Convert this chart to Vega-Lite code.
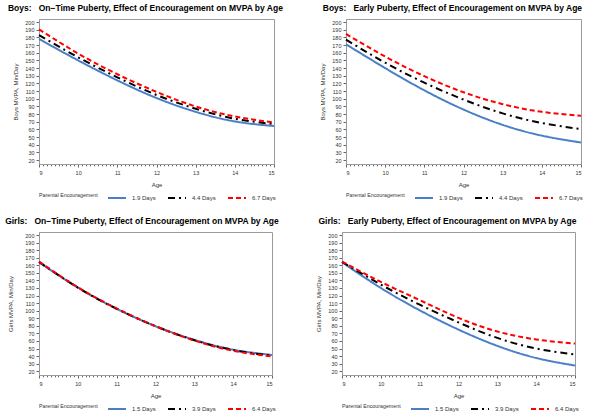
{
  "$schema": "https://vega.github.io/schema/vega-lite/v6.json",
  "padding": {"left": 4, "top": 3, "right": 2, "bottom": 2},
  "config": {
    "font": "Liberation Sans",
    "view": {"stroke": "#9a9a9a", "strokeWidth": 1},
    "axis": {"labelFontSize": 5.5, "titleFontSize": 6, "labelColor": "#333333", "titleColor": "#333333", "titleFontWeight": "normal", "grid": false, "tickSize": 3, "domainColor": "#9a9a9a", "tickColor": "#666666", "labelPadding": 2, "titlePadding": 6},
    "axisX": {"labelOverlap": false, "labelPadding": 3, "labelExpr": "abs(datum.value - round(datum.value)) < 0.01 ? format(datum.value, 'd') : ''", "tickSize": {"condition": {"test": "abs(datum.value - round(datum.value)) < 0.01", "value": 3}, "value": 1.8}},
    "legend": {"orient": "bottom", "direction": "horizontal", "titleOrient": "left", "titleFontSize": 5.3, "titleFontWeight": "normal", "titleColor": "#333333", "labelFontSize": 6, "labelColor": "#333333", "symbolType": "stroke", "symbolSize": 324, "symbolStrokeWidth": 2, "columnPadding": 8, "titlePadding": 9, "labelOffset": 5, "offset": 0},
    "title": {"fontSize": 8.5, "fontWeight": "bold", "anchor": "middle", "frame": "bounds", "offset": 7, "color": "#000000"}
  },
  "data": {"values": [
    {"panel": "BO", "enc": "1.9 Days", "age": 9, "mvpa": 178},
    {"panel": "BO", "enc": "1.9 Days", "age": 10, "mvpa": 150},
    {"panel": "BO", "enc": "1.9 Days", "age": 11, "mvpa": 124},
    {"panel": "BO", "enc": "1.9 Days", "age": 12, "mvpa": 101},
    {"panel": "BO", "enc": "1.9 Days", "age": 13, "mvpa": 83},
    {"panel": "BO", "enc": "1.9 Days", "age": 14, "mvpa": 70.5},
    {"panel": "BO", "enc": "1.9 Days", "age": 15, "mvpa": 64.5},
    {"panel": "BO", "enc": "4.4 Days", "age": 9, "mvpa": 183},
    {"panel": "BO", "enc": "4.4 Days", "age": 10, "mvpa": 154},
    {"panel": "BO", "enc": "4.4 Days", "age": 11, "mvpa": 128},
    {"panel": "BO", "enc": "4.4 Days", "age": 12, "mvpa": 105},
    {"panel": "BO", "enc": "4.4 Days", "age": 13, "mvpa": 87},
    {"panel": "BO", "enc": "4.4 Days", "age": 14, "mvpa": 74},
    {"panel": "BO", "enc": "4.4 Days", "age": 15, "mvpa": 67},
    {"panel": "BO", "enc": "6.7 Days", "age": 9, "mvpa": 190.5},
    {"panel": "BO", "enc": "6.7 Days", "age": 10, "mvpa": 159},
    {"panel": "BO", "enc": "6.7 Days", "age": 11, "mvpa": 132},
    {"panel": "BO", "enc": "6.7 Days", "age": 12, "mvpa": 109},
    {"panel": "BO", "enc": "6.7 Days", "age": 13, "mvpa": 90},
    {"panel": "BO", "enc": "6.7 Days", "age": 14, "mvpa": 77},
    {"panel": "BO", "enc": "6.7 Days", "age": 15, "mvpa": 69},
    {"panel": "BE", "enc": "1.9 Days", "age": 9, "mvpa": 171},
    {"panel": "BE", "enc": "1.9 Days", "age": 10, "mvpa": 140},
    {"panel": "BE", "enc": "1.9 Days", "age": 11, "mvpa": 111},
    {"panel": "BE", "enc": "1.9 Days", "age": 12, "mvpa": 86},
    {"panel": "BE", "enc": "1.9 Days", "age": 13, "mvpa": 66},
    {"panel": "BE", "enc": "1.9 Days", "age": 14, "mvpa": 52},
    {"panel": "BE", "enc": "1.9 Days", "age": 15, "mvpa": 43},
    {"panel": "BE", "enc": "4.4 Days", "age": 9, "mvpa": 177},
    {"panel": "BE", "enc": "4.4 Days", "age": 10, "mvpa": 147},
    {"panel": "BE", "enc": "4.4 Days", "age": 11, "mvpa": 121},
    {"panel": "BE", "enc": "4.4 Days", "age": 12, "mvpa": 99},
    {"panel": "BE", "enc": "4.4 Days", "age": 13, "mvpa": 81},
    {"panel": "BE", "enc": "4.4 Days", "age": 14, "mvpa": 68.5},
    {"panel": "BE", "enc": "4.4 Days", "age": 15, "mvpa": 60.5},
    {"panel": "BE", "enc": "6.7 Days", "age": 9, "mvpa": 184.5},
    {"panel": "BE", "enc": "6.7 Days", "age": 10, "mvpa": 155},
    {"panel": "BE", "enc": "6.7 Days", "age": 11, "mvpa": 129.5},
    {"panel": "BE", "enc": "6.7 Days", "age": 12, "mvpa": 108.5},
    {"panel": "BE", "enc": "6.7 Days", "age": 13, "mvpa": 93},
    {"panel": "BE", "enc": "6.7 Days", "age": 14, "mvpa": 83},
    {"panel": "BE", "enc": "6.7 Days", "age": 15, "mvpa": 78},
    {"panel": "GO", "enc": "1.5 Days", "age": 9, "mvpa": 164},
    {"panel": "GO", "enc": "1.5 Days", "age": 10, "mvpa": 130.5},
    {"panel": "GO", "enc": "1.5 Days", "age": 11, "mvpa": 102.5},
    {"panel": "GO", "enc": "1.5 Days", "age": 12, "mvpa": 79.5},
    {"panel": "GO", "enc": "1.5 Days", "age": 13, "mvpa": 61.5},
    {"panel": "GO", "enc": "1.5 Days", "age": 14, "mvpa": 48.5},
    {"panel": "GO", "enc": "1.5 Days", "age": 15, "mvpa": 41.5},
    {"panel": "GO", "enc": "3.9 Days", "age": 9, "mvpa": 164.5},
    {"panel": "GO", "enc": "3.9 Days", "age": 10, "mvpa": 130.5},
    {"panel": "GO", "enc": "3.9 Days", "age": 11, "mvpa": 102.5},
    {"panel": "GO", "enc": "3.9 Days", "age": 12, "mvpa": 79.5},
    {"panel": "GO", "enc": "3.9 Days", "age": 13, "mvpa": 61},
    {"panel": "GO", "enc": "3.9 Days", "age": 14, "mvpa": 48},
    {"panel": "GO", "enc": "3.9 Days", "age": 15, "mvpa": 40.5},
    {"panel": "GO", "enc": "6.4 Days", "age": 9, "mvpa": 165},
    {"panel": "GO", "enc": "6.4 Days", "age": 10, "mvpa": 131},
    {"panel": "GO", "enc": "6.4 Days", "age": 11, "mvpa": 103},
    {"panel": "GO", "enc": "6.4 Days", "age": 12, "mvpa": 79.5},
    {"panel": "GO", "enc": "6.4 Days", "age": 13, "mvpa": 60.5},
    {"panel": "GO", "enc": "6.4 Days", "age": 14, "mvpa": 47},
    {"panel": "GO", "enc": "6.4 Days", "age": 15, "mvpa": 39.5},
    {"panel": "GE", "enc": "1.5 Days", "age": 9, "mvpa": 164},
    {"panel": "GE", "enc": "1.5 Days", "age": 10, "mvpa": 130},
    {"panel": "GE", "enc": "1.5 Days", "age": 11, "mvpa": 100.5},
    {"panel": "GE", "enc": "1.5 Days", "age": 12, "mvpa": 75},
    {"panel": "GE", "enc": "1.5 Days", "age": 13, "mvpa": 53.5},
    {"panel": "GE", "enc": "1.5 Days", "age": 14, "mvpa": 37.5},
    {"panel": "GE", "enc": "1.5 Days", "age": 15, "mvpa": 27.5},
    {"panel": "GE", "enc": "3.9 Days", "age": 9, "mvpa": 164.5},
    {"panel": "GE", "enc": "3.9 Days", "age": 10, "mvpa": 134.5},
    {"panel": "GE", "enc": "3.9 Days", "age": 11, "mvpa": 108},
    {"panel": "GE", "enc": "3.9 Days", "age": 12, "mvpa": 84.5},
    {"panel": "GE", "enc": "3.9 Days", "age": 13, "mvpa": 64},
    {"panel": "GE", "enc": "3.9 Days", "age": 14, "mvpa": 50},
    {"panel": "GE", "enc": "3.9 Days", "age": 15, "mvpa": 42},
    {"panel": "GE", "enc": "6.4 Days", "age": 9, "mvpa": 165},
    {"panel": "GE", "enc": "6.4 Days", "age": 10, "mvpa": 138},
    {"panel": "GE", "enc": "6.4 Days", "age": 11, "mvpa": 114},
    {"panel": "GE", "enc": "6.4 Days", "age": 12, "mvpa": 90.5},
    {"panel": "GE", "enc": "6.4 Days", "age": 13, "mvpa": 72.5},
    {"panel": "GE", "enc": "6.4 Days", "age": 14, "mvpa": 62},
    {"panel": "GE", "enc": "6.4 Days", "age": 15, "mvpa": 56.5}
  ]},
  "spacing": 13,
  "vconcat": [
    {
      "spacing": 35,
      "hconcat": [
        {
          "title": "Boys:\u00a0\u00a0\u00a0On\u2212Time Puberty, Effect of Encouragement on MVPA by Age",
          "width": 235, "height": 145,
          "transform": [{"filter": "datum.panel == 'BO'"}],
          "mark": {"type": "line", "interpolate": "natural", "strokeWidth": 2},
          "encoding": {
            "x": {"field": "age", "type": "quantitative", "scale": {"domain": [9, 15], "nice": false, "zero": false}, "axis": {"title": "Age", "values": [9, 9.1, 9.2, 9.3, 9.4, 9.5, 9.6, 9.7, 9.8, 9.9, 10, 10.1, 10.2, 10.3, 10.4, 10.5, 10.6, 10.7, 10.8, 10.9, 11, 11.1, 11.2, 11.3, 11.4, 11.5, 11.6, 11.7, 11.8, 11.9, 12, 12.1, 12.2, 12.3, 12.4, 12.5, 12.6, 12.7, 12.8, 12.9, 13, 13.1, 13.2, 13.3, 13.4, 13.5, 13.6, 13.7, 13.8, 13.9, 14, 14.1, 14.2, 14.3, 14.4, 14.5, 14.6, 14.7, 14.8, 14.9, 15]}},
            "y": {"field": "mvpa", "type": "quantitative", "scale": {"domain": [15, 204], "nice": false, "zero": false}, "axis": {"title": "Boys MVPA, Min/Day", "values": [20, 30, 40, 50, 60, 70, 80, 90, 100, 110, 120, 130, 140, 150, 160, 170, 180, 190, 200]}},
            "color": {"field": "enc", "type": "nominal", "scale": {"domain": ["1.9 Days", "4.4 Days", "6.7 Days"], "range": ["#4a7fc8", "#000000", "#ff0000"]}, "legend": {"title": "Parental Encouragement"}},
            "strokeDash": {"field": "enc", "type": "nominal", "scale": {"domain": ["1.9 Days", "4.4 Days", "6.7 Days"], "range": [[1, 0], [7, 4, 2, 4], [5, 3]]}, "legend": {"title": "Parental Encouragement"}}
          }
        },
        {
          "title": "Boys:\u00a0\u00a0\u00a0Early Puberty, Effect of Encouragement on MVPA by Age",
          "width": 235, "height": 145,
          "transform": [{"filter": "datum.panel == 'BE'"}],
          "mark": {"type": "line", "interpolate": "natural", "strokeWidth": 2},
          "encoding": {
            "x": {"field": "age", "type": "quantitative", "scale": {"domain": [9, 15], "nice": false, "zero": false}, "axis": {"title": "Age", "values": [9, 9.1, 9.2, 9.3, 9.4, 9.5, 9.6, 9.7, 9.8, 9.9, 10, 10.1, 10.2, 10.3, 10.4, 10.5, 10.6, 10.7, 10.8, 10.9, 11, 11.1, 11.2, 11.3, 11.4, 11.5, 11.6, 11.7, 11.8, 11.9, 12, 12.1, 12.2, 12.3, 12.4, 12.5, 12.6, 12.7, 12.8, 12.9, 13, 13.1, 13.2, 13.3, 13.4, 13.5, 13.6, 13.7, 13.8, 13.9, 14, 14.1, 14.2, 14.3, 14.4, 14.5, 14.6, 14.7, 14.8, 14.9, 15]}},
            "y": {"field": "mvpa", "type": "quantitative", "scale": {"domain": [15, 204], "nice": false, "zero": false}, "axis": {"title": "Boys MVPA, Min/Day", "values": [20, 30, 40, 50, 60, 70, 80, 90, 100, 110, 120, 130, 140, 150, 160, 170, 180, 190, 200]}},
            "color": {"field": "enc", "type": "nominal", "scale": {"domain": ["1.9 Days", "4.4 Days", "6.7 Days"], "range": ["#4a7fc8", "#000000", "#ff0000"]}, "legend": {"title": "Parental Encouragement"}},
            "strokeDash": {"field": "enc", "type": "nominal", "scale": {"domain": ["1.9 Days", "4.4 Days", "6.7 Days"], "range": [[1, 0], [7, 4, 2, 4], [5, 3]]}, "legend": {"title": "Parental Encouragement"}}
          }
        }
      ],
      "resolve": {"scale": {"color": "independent", "strokeDash": "independent"}, "legend": {"color": "independent", "strokeDash": "independent"}}
    },
    {
      "spacing": 35,
      "hconcat": [
        {
          "title": "Girls:\u00a0\u00a0\u00a0On\u2212Time Puberty, Effect of Encouragement on MVPA by Age",
          "width": 233, "height": 143,
          "transform": [{"filter": "datum.panel == 'GO'"}],
          "mark": {"type": "line", "interpolate": "natural", "strokeWidth": 2},
          "encoding": {
            "x": {"field": "age", "type": "quantitative", "scale": {"domain": [9, 15], "nice": false, "zero": false}, "axis": {"title": "Age", "values": [9, 9.1, 9.2, 9.3, 9.4, 9.5, 9.6, 9.7, 9.8, 9.9, 10, 10.1, 10.2, 10.3, 10.4, 10.5, 10.6, 10.7, 10.8, 10.9, 11, 11.1, 11.2, 11.3, 11.4, 11.5, 11.6, 11.7, 11.8, 11.9, 12, 12.1, 12.2, 12.3, 12.4, 12.5, 12.6, 12.7, 12.8, 12.9, 13, 13.1, 13.2, 13.3, 13.4, 13.5, 13.6, 13.7, 13.8, 13.9, 14, 14.1, 14.2, 14.3, 14.4, 14.5, 14.6, 14.7, 14.8, 14.9, 15]}},
            "y": {"field": "mvpa", "type": "quantitative", "scale": {"domain": [15, 204], "nice": false, "zero": false}, "axis": {"title": "Girls MVPA, Min/Day", "titlePadding": 11, "values": [20, 30, 40, 50, 60, 70, 80, 90, 100, 110, 120, 130, 140, 150, 160, 170, 180, 190, 200]}},
            "color": {"field": "enc", "type": "nominal", "scale": {"domain": ["1.5 Days", "3.9 Days", "6.4 Days"], "range": ["#4a7fc8", "#000000", "#ff0000"]}, "legend": {"title": "Parental Encouragement"}},
            "strokeDash": {"field": "enc", "type": "nominal", "scale": {"domain": ["1.5 Days", "3.9 Days", "6.4 Days"], "range": [[1, 0], [7, 4, 2, 4], [5, 3]]}, "legend": {"title": "Parental Encouragement"}}
          }
        },
        {
          "title": "Girls:\u00a0\u00a0\u00a0Early Puberty, Effect of Encouragement on MVPA by Age",
          "width": 233, "height": 143,
          "transform": [{"filter": "datum.panel == 'GE'"}],
          "mark": {"type": "line", "interpolate": "natural", "strokeWidth": 2},
          "encoding": {
            "x": {"field": "age", "type": "quantitative", "scale": {"domain": [9, 15], "nice": false, "zero": false}, "axis": {"title": "Age", "values": [9, 9.1, 9.2, 9.3, 9.4, 9.5, 9.6, 9.7, 9.8, 9.9, 10, 10.1, 10.2, 10.3, 10.4, 10.5, 10.6, 10.7, 10.8, 10.9, 11, 11.1, 11.2, 11.3, 11.4, 11.5, 11.6, 11.7, 11.8, 11.9, 12, 12.1, 12.2, 12.3, 12.4, 12.5, 12.6, 12.7, 12.8, 12.9, 13, 13.1, 13.2, 13.3, 13.4, 13.5, 13.6, 13.7, 13.8, 13.9, 14, 14.1, 14.2, 14.3, 14.4, 14.5, 14.6, 14.7, 14.8, 14.9, 15]}},
            "y": {"field": "mvpa", "type": "quantitative", "scale": {"domain": [15, 204], "nice": false, "zero": false}, "axis": {"title": "Girls MVPA, Min/Day", "values": [20, 30, 40, 50, 60, 70, 80, 90, 100, 110, 120, 130, 140, 150, 160, 170, 180, 190, 200]}},
            "color": {"field": "enc", "type": "nominal", "scale": {"domain": ["1.5 Days", "3.9 Days", "6.4 Days"], "range": ["#4a7fc8", "#000000", "#ff0000"]}, "legend": {"title": "Parental Encouragement"}},
            "strokeDash": {"field": "enc", "type": "nominal", "scale": {"domain": ["1.5 Days", "3.9 Days", "6.4 Days"], "range": [[1, 0], [7, 4, 2, 4], [5, 3]]}, "legend": {"title": "Parental Encouragement"}}
          }
        }
      ],
      "resolve": {"scale": {"color": "independent", "strokeDash": "independent"}, "legend": {"color": "independent", "strokeDash": "independent"}}
    }
  ],
  "resolve": {"scale": {"color": "independent", "strokeDash": "independent"}, "legend": {"color": "independent", "strokeDash": "independent"}}
}
